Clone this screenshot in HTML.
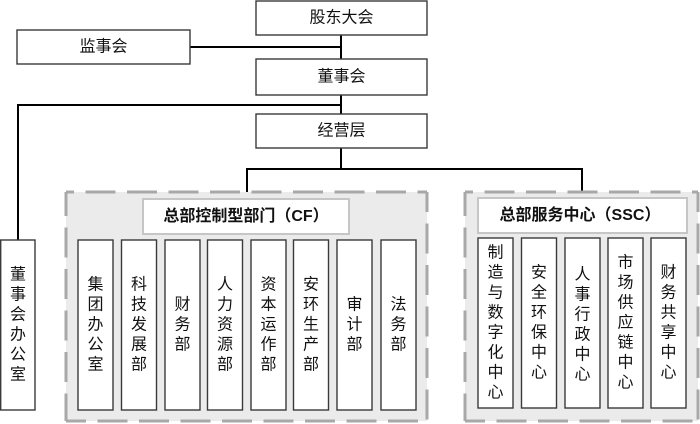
<!DOCTYPE html>
<html><head><meta charset="utf-8">
<style>
html,body{margin:0;padding:0;background:#fff;}
svg{display:block;}
text{font-family:"Liberation Sans","Noto Sans CJK SC",sans-serif;fill:#111;}
.t{font-size:16px;text-anchor:middle;dominant-baseline:central;}
.b{font-weight:bold;}
.box{fill:#fff;stroke:#3a3a3a;stroke-width:1.4;}
.ln{stroke:#000;stroke-width:2;fill:none;}
.dash{stroke:#a8a8a8;stroke-width:3;fill:none;stroke-dasharray:30 11.5;}
.tb{fill:#fff;stroke:#c6c6c6;stroke-width:2;}
</style></head>
<body>
<svg width="700" height="424" viewBox="0 0 700 424" xmlns="http://www.w3.org/2000/svg">
<!-- connectors -->
<line class="ln" x1="341" y1="35" x2="341" y2="59"/>
<line class="ln" x1="190" y1="47" x2="341" y2="47"/>
<line class="ln" x1="341" y1="95" x2="341" y2="114"/>
<line class="ln" x1="17" y1="105" x2="342" y2="105"/>
<line class="ln" x1="18" y1="104" x2="18" y2="240"/>
<line class="ln" x1="341" y1="148" x2="341" y2="169"/>
<line class="ln" x1="246" y1="169" x2="583" y2="169"/>
<line class="ln" x1="247" y1="168" x2="247" y2="192"/>
<line class="ln" x1="582" y1="168" x2="582" y2="192"/>

<!-- top boxes -->
<rect class="box" x="256" y="1" width="171" height="34"/>
<text class="t" x="341.5" y="18">股东大会</text>
<rect class="box" x="17" y="30" width="173" height="34"/>
<text class="t" x="103.5" y="47">监事会</text>
<rect class="box" x="256" y="59" width="171" height="36"/>
<text class="t" x="341.5" y="77">董事会</text>
<rect class="box" x="256" y="114" width="171" height="34"/>
<text class="t" x="341.5" y="131">经营层</text>

<!-- left vertical box -->
<rect class="box" x="0.7" y="240" width="34.3" height="170"/>
<g class="t">
<text class="t" x="18" y="275">董</text>
<text class="t" x="18" y="295">事</text>
<text class="t" x="18" y="315">会</text>
<text class="t" x="18" y="335">办</text>
<text class="t" x="18" y="355">公</text>
<text class="t" x="18" y="375">室</text>
</g>

<!-- CF group -->
<rect x="66" y="192" width="361" height="229" fill="#ebebeb"/>
<line class="dash" x1="66" y1="192" x2="427" y2="192" stroke-dashoffset="22"/>
<line class="dash" x1="66" y1="192" x2="66" y2="421" stroke-dashoffset="6"/>
<line class="dash" x1="66" y1="421" x2="427" y2="421" stroke-dashoffset="10"/>
<line class="dash" x1="427" y1="192" x2="427" y2="421" stroke-dashoffset="10"/>
<rect class="tb" x="143" y="199" width="206" height="35"/>
<text class="t b" x="246" y="216.5">总部控制型部门（CF）</text>

<rect class="box" x="78" y="240" width="35" height="170"/>
<rect class="box" x="121.5" y="240" width="35" height="170"/>
<rect class="box" x="165" y="240" width="35" height="170"/>
<rect class="box" x="207.5" y="240" width="35" height="170"/>
<rect class="box" x="251" y="240" width="35" height="170"/>
<rect class="box" x="293.5" y="240" width="35" height="170"/>
<rect class="box" x="337" y="240" width="35" height="170"/>
<rect class="box" x="381" y="240" width="35" height="170"/>

<text class="t" x="95.5" y="285">集</text>
<text class="t" x="95.5" y="305">团</text>
<text class="t" x="95.5" y="325">办</text>
<text class="t" x="95.5" y="345">公</text>
<text class="t" x="95.5" y="365">室</text>

<text class="t" x="139" y="285">科</text>
<text class="t" x="139" y="305">技</text>
<text class="t" x="139" y="325">发</text>
<text class="t" x="139" y="345">展</text>
<text class="t" x="139" y="365">部</text>

<text class="t" x="182.5" y="305">财</text>
<text class="t" x="182.5" y="325">务</text>
<text class="t" x="182.5" y="345">部</text>

<text class="t" x="225" y="285">人</text>
<text class="t" x="225" y="305">力</text>
<text class="t" x="225" y="325">资</text>
<text class="t" x="225" y="345">源</text>
<text class="t" x="225" y="365">部</text>

<text class="t" x="268.5" y="285">资</text>
<text class="t" x="268.5" y="305">本</text>
<text class="t" x="268.5" y="325">运</text>
<text class="t" x="268.5" y="345">作</text>
<text class="t" x="268.5" y="365">部</text>

<text class="t" x="311" y="285">安</text>
<text class="t" x="311" y="305">环</text>
<text class="t" x="311" y="325">生</text>
<text class="t" x="311" y="345">产</text>
<text class="t" x="311" y="365">部</text>

<text class="t" x="354.5" y="305">审</text>
<text class="t" x="354.5" y="325">计</text>
<text class="t" x="354.5" y="345">部</text>

<text class="t" x="398.5" y="305">法</text>
<text class="t" x="398.5" y="325">务</text>
<text class="t" x="398.5" y="345">部</text>

<!-- SSC group -->
<rect x="465" y="192" width="233" height="229" fill="#ebebeb"/>
<line class="dash" x1="465" y1="192" x2="698" y2="192" stroke-dashoffset="22"/>
<line class="dash" x1="465" y1="192" x2="465" y2="421" stroke-dashoffset="6"/>
<line class="dash" x1="465" y1="421" x2="698" y2="421" stroke-dashoffset="10"/>
<line class="dash" x1="698" y1="192" x2="698" y2="421" stroke-dashoffset="10"/>
<rect class="tb" x="478" y="198" width="209" height="35"/>
<text class="t b" x="580" y="215.5">总部服务中心（SSC）</text>

<rect class="box" x="478" y="238" width="35" height="170"/>
<rect class="box" x="521.5" y="238" width="35" height="170"/>
<rect class="box" x="565" y="238" width="35" height="170"/>
<rect class="box" x="608" y="238" width="35" height="170"/>
<rect class="box" x="651" y="238" width="35" height="170"/>

<text class="t" x="495.5" y="253">制</text>
<text class="t" x="495.5" y="273">造</text>
<text class="t" x="495.5" y="293">与</text>
<text class="t" x="495.5" y="313">数</text>
<text class="t" x="495.5" y="333">字</text>
<text class="t" x="495.5" y="353">化</text>
<text class="t" x="495.5" y="373">中</text>
<text class="t" x="495.5" y="393">心</text>

<text class="t" x="539" y="273">安</text>
<text class="t" x="539" y="293">全</text>
<text class="t" x="539" y="313">环</text>
<text class="t" x="539" y="333">保</text>
<text class="t" x="539" y="353">中</text>
<text class="t" x="539" y="373">心</text>

<text class="t" x="582.5" y="275">人</text>
<text class="t" x="582.5" y="295">事</text>
<text class="t" x="582.5" y="315">行</text>
<text class="t" x="582.5" y="335">政</text>
<text class="t" x="582.5" y="355">中</text>
<text class="t" x="582.5" y="375">心</text>

<text class="t" x="625.5" y="263">市</text>
<text class="t" x="625.5" y="283">场</text>
<text class="t" x="625.5" y="303">供</text>
<text class="t" x="625.5" y="323">应</text>
<text class="t" x="625.5" y="343">链</text>
<text class="t" x="625.5" y="363">中</text>
<text class="t" x="625.5" y="383">心</text>

<text class="t" x="668.5" y="273">财</text>
<text class="t" x="668.5" y="293">务</text>
<text class="t" x="668.5" y="313">共</text>
<text class="t" x="668.5" y="333">享</text>
<text class="t" x="668.5" y="353">中</text>
<text class="t" x="668.5" y="373">心</text>
</svg>
</body></html>
